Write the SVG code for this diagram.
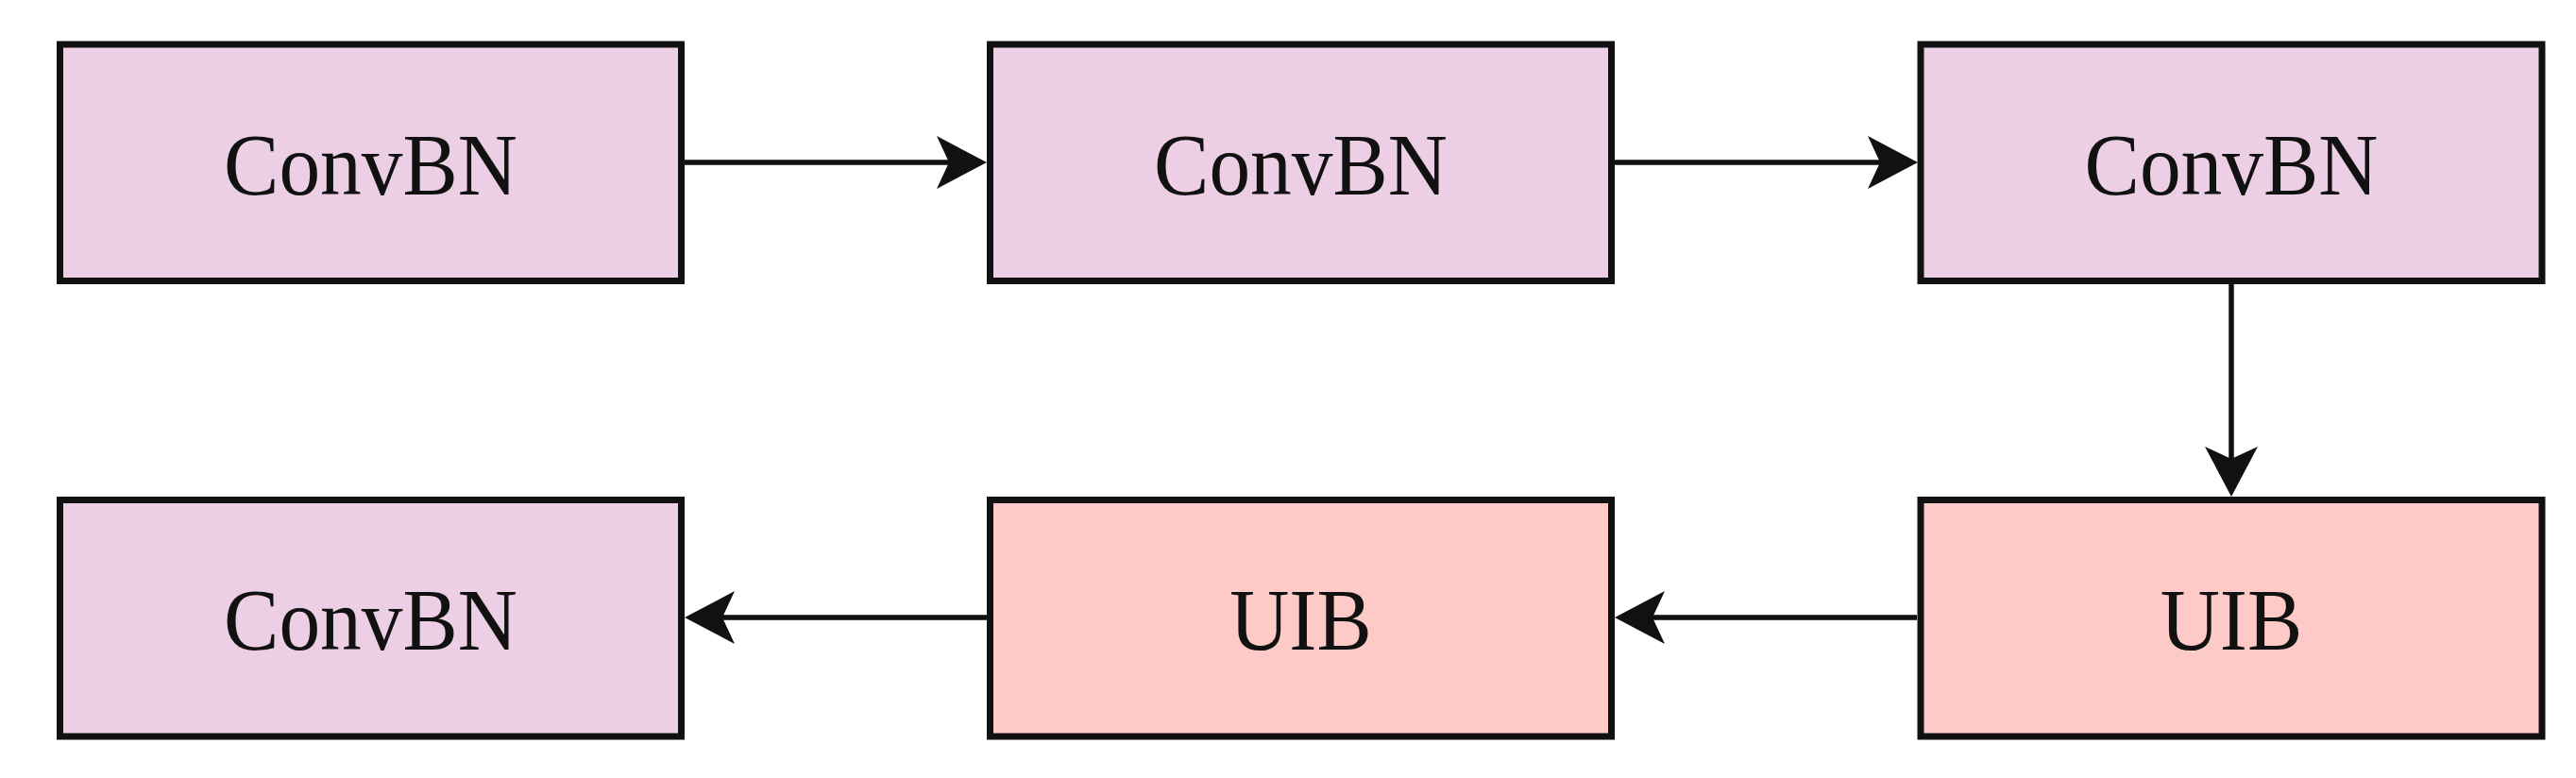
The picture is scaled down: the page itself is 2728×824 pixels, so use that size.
<svg xmlns="http://www.w3.org/2000/svg" width="2728" height="824" viewBox="0 0 2728 824">
<style>
.box{stroke:#111;stroke-width:7}
.cbn{fill:#ECCFE4}
.uib{fill:#FDCAC7}
.lbl{font-family:"Liberation Serif","Times New Roman",serif;font-size:94px;fill:#111;text-anchor:middle}
.edge{stroke:#111;stroke-width:5.5;fill:none}
</style>
<defs>
<marker id="ah" viewBox="0 0 53 56" refX="13" refY="28" markerWidth="53" markerHeight="56" markerUnits="userSpaceOnUse" orient="auto">
<path d="M0,0 L53,28 L0,56 L13,28 Z" fill="#111"/>
</marker>
</defs>
<rect width="2728" height="824" fill="#fff"/>
<g id="n1"><rect class="box cbn" x="63.5" y="47" width="658" height="250.5"/><text class="lbl" transform="translate(392.5,206) scale(0.93,1)">ConvBN</text></g>
<g id="n2"><rect class="box cbn" x="1048.5" y="47" width="658" height="250.5"/><text class="lbl" transform="translate(1377.5,206) scale(0.93,1)">ConvBN</text></g>
<g id="n3"><rect class="box cbn" x="2034" y="47" width="658" height="250.5"/><text class="lbl" transform="translate(2363,206) scale(0.93,1)">ConvBN</text></g>
<g id="n4"><rect class="box uib" x="2034" y="529.5" width="658" height="250.5"/><text class="lbl" transform="translate(2363,688) scale(0.93,1)">UIB</text></g>
<g id="n5"><rect class="box uib" x="1048.5" y="529.5" width="658" height="250.5"/><text class="lbl" transform="translate(1377.5,688) scale(0.93,1)">UIB</text></g>
<g id="n6"><rect class="box cbn" x="63.5" y="529.5" width="658" height="250.5"/><text class="lbl" transform="translate(392.5,688) scale(0.93,1)">ConvBN</text></g>
<g id="connectors">
<line class="edge" x1="725" y1="172" x2="1005" y2="172" marker-end="url(#ah)"/>
<line class="edge" x1="1710" y1="172" x2="1991" y2="172" marker-end="url(#ah)"/>
<line class="edge" x1="2363" y1="301" x2="2363" y2="486" marker-end="url(#ah)"/>
<line class="edge" x1="2030" y1="654" x2="1750" y2="654" marker-end="url(#ah)"/>
<line class="edge" x1="1045" y1="654" x2="765" y2="654" marker-end="url(#ah)"/>
</g>
</svg>
